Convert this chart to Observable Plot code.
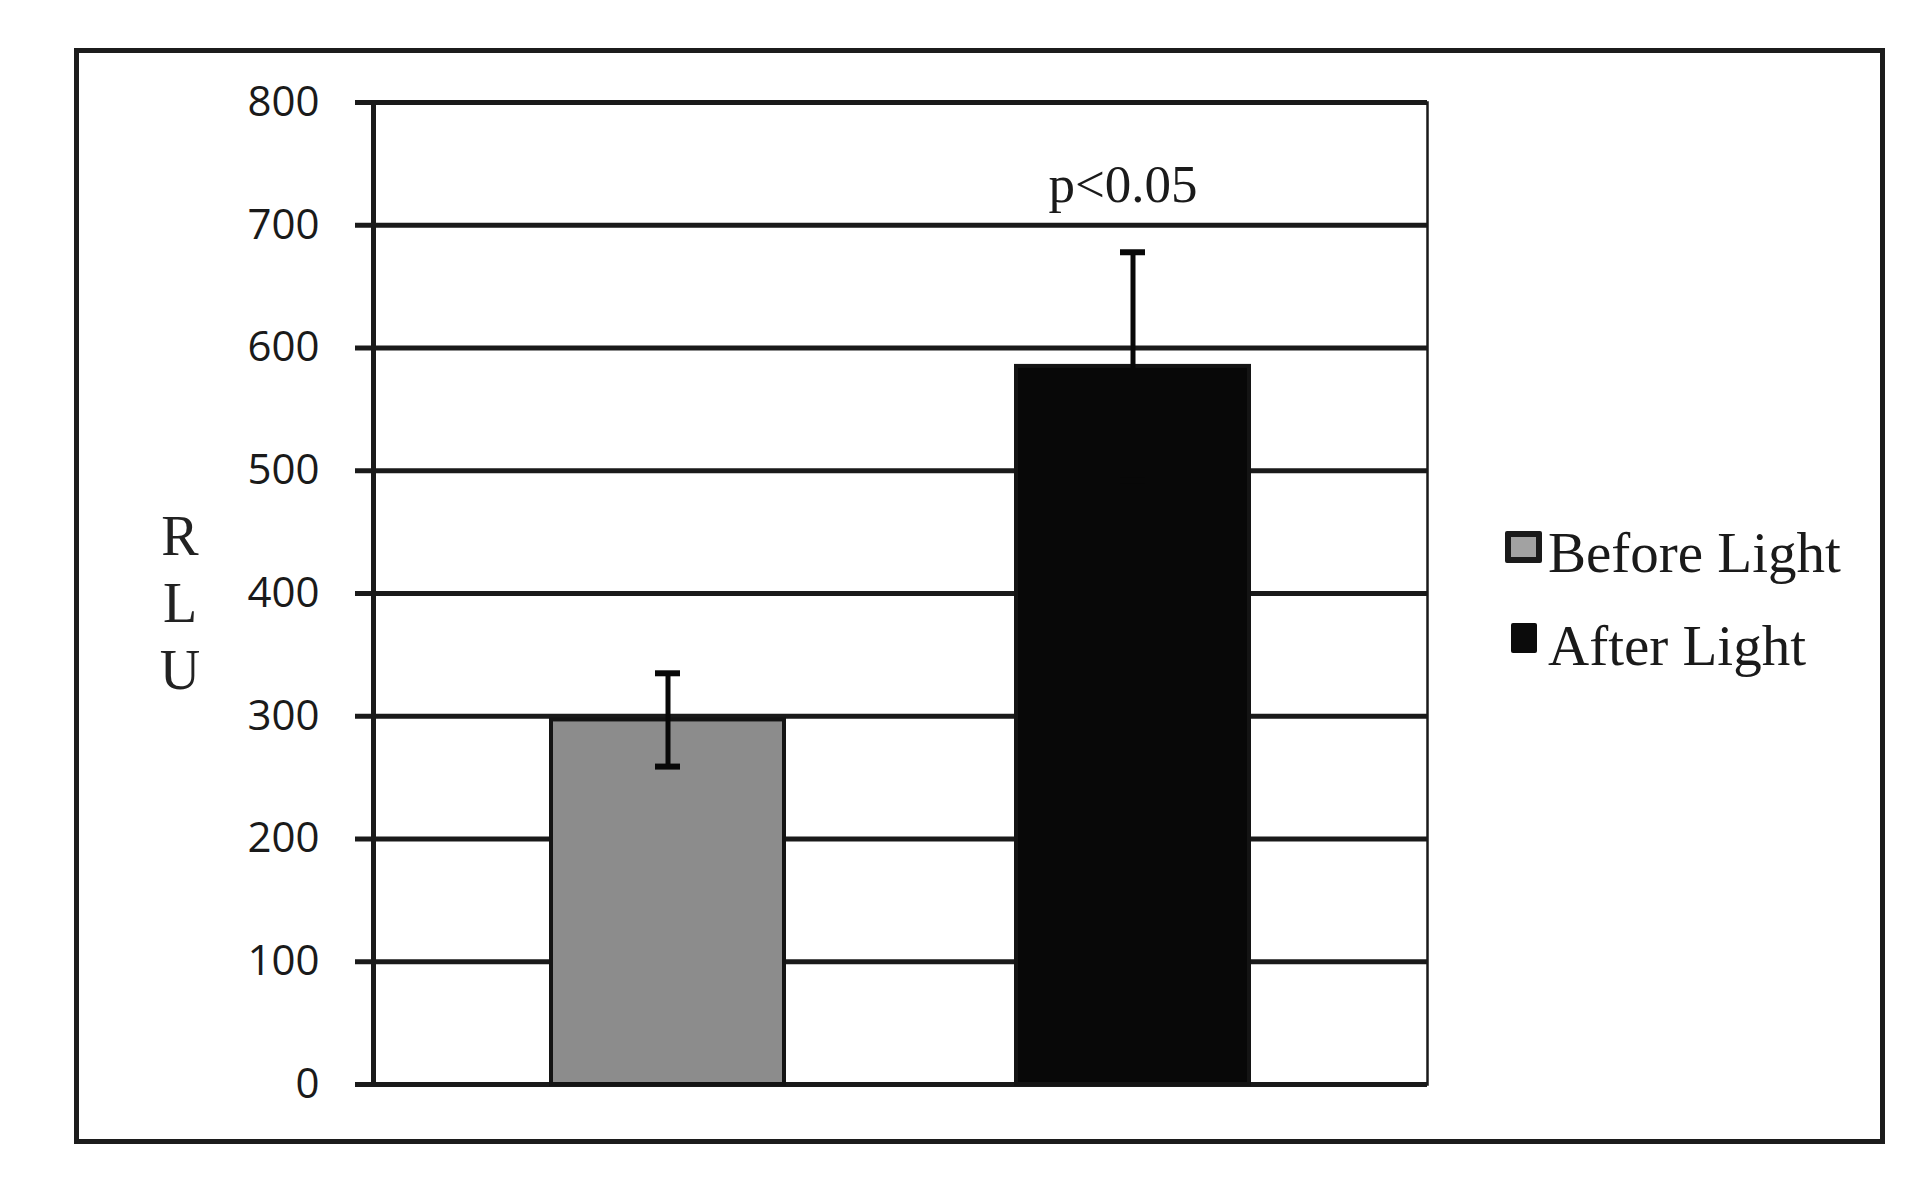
<!DOCTYPE html>
<html>
<head>
<meta charset="utf-8">
<script src="https://cdn.jsdelivr.net/npm/d3@7"></script>
<script src="https://cdn.jsdelivr.net/npm/@observablehq/plot@0.6"></script>
<style>
  html, body { margin: 0; padding: 0; background: #ffffff; }
  #wrap { position: relative; width: 1920px; height: 1192px; overflow: hidden; background: #ffffff; }
  #chart { position: absolute; left: 0; top: 0; }
  #outer { position: absolute; left: 74px; top: 48px; width: 1811px; height: 1096px; box-sizing: border-box; border: 5px solid #1c1c1c; }
  #ylab { position: absolute; left: 150px; top: 503px; width: 60px; text-align: center;
          font-family: "Liberation Serif", "DejaVu Serif", serif; font-size: 56px; line-height: 67px; color: #222; }
  .leg { position: absolute; font-family: "Liberation Serif", "DejaVu Serif", serif; font-size: 57px; line-height: 57px; color: #1a1a1a; white-space: nowrap; }
  .sw { position: absolute; box-sizing: border-box; }
</style>
</head>
<body>
<div id="wrap">
  <div id="outer"></div>
  <div id="chart"></div>
  <div id="ylab"></div>
</div>
<script>
// ---- data ----
const series = ["Before Light", "After Light"];
const means = [297, 585];
const errors = [38, 93];
const fills = ["#8c8c8c", "#080808"];
const notes = ["", "p<0.05"];
const yTicks = [0, 100, 200, 300, 400, 500, 600, 700, 800];
const yLabel = ["R", "L", "U"];

const data = series.map((s, i) => ({ series: s, mean: means[i], err: errors[i], fill: fills[i], note: notes[i] }));

const ink = "#1a1a1a";
const whisker = "#080808";
const chart = Plot.plot({
  width: 1920,
  height: 1192,
  marginLeft: 373,
  marginRight: 493,
  marginTop: 102,
  marginBottom: 108,
  style: { background: "transparent", overflow: "visible" },
  x: { domain: series, paddingInner: 0.5, paddingOuter: 0.381, axis: null },
  y: { domain: [0, 800], axis: null },
  color: { type: "identity" },
  marks: [
    Plot.gridY(yTicks, { stroke: ink, strokeOpacity: 1, strokeWidth: 5 }),
    Plot.axisY(yTicks, {
      tickSize: 18, tickPadding: 36, strokeWidth: 5, color: ink,
      fontSize: 42, fontFamily: "Open Sans, Noto Sans, sans-serif",
      tickFormat: d => String(d), label: null
    }),
    Plot.frame({ stroke: ink, strokeWidth: 2.5 }),
    Plot.frame({ anchor: "left", stroke: ink, strokeWidth: 5 }),
    Plot.barY(data, { x: "series", y: "mean", fill: "fill", stroke: "#141414", strokeWidth: 4 }),
    Plot.ruleX(data, { x: "series", y1: d => d.mean - d.err, y2: d => d.mean + d.err, stroke: whisker, strokeWidth: 5 }),
    Plot.tickY(data, { x: "series", y: d => d.mean + d.err, insetLeft: 104, insetRight: 104, stroke: whisker, strokeWidth: 6 }),
    Plot.tickY(data, { x: "series", y: d => d.mean - d.err, insetLeft: 104, insetRight: 104, stroke: whisker, strokeWidth: 6 }),
    Plot.text(data.filter(d => d.note), {
      x: "series", y: d => d.mean + d.err, text: "note", dy: -67, dx: -10,
      fontSize: 53, fontFamily: "Liberation Serif, DejaVu Serif, serif", fill: "#1a1a1a"
    })
  ]
});
document.getElementById("chart").appendChild(chart);

// stacked y label
document.getElementById("ylab").innerHTML = yLabel.map(c => `<div>${c}</div>`).join("");

// legend built from the series arrays
const wrap = document.getElementById("wrap");
const legendPos = [
  { sw: { left: 1505, top: 531, w: 37, h: 32, border: 6 }, text: { left: 1548, top: 524 } },
  { sw: { left: 1511, top: 623, w: 26, h: 30, border: 0 }, text: { left: 1548, top: 617 } }
];
const swatchFill = ["#a2a2a2", "#0b0b0b"];
series.forEach((s, i) => {
  const p = legendPos[i];
  const sw = document.createElement("div");
  sw.className = "sw";
  Object.assign(sw.style, {
    left: p.sw.left + "px", top: p.sw.top + "px", width: p.sw.w + "px", height: p.sw.h + "px",
    background: swatchFill[i], border: p.sw.border ? `${p.sw.border}px solid #1a1a1a` : "none",
    borderRadius: "2px"
  });
  wrap.appendChild(sw);
  const t = document.createElement("div");
  t.className = "leg";
  t.textContent = s;
  t.style.left = p.text.left + "px";
  t.style.top = p.text.top + "px";
  wrap.appendChild(t);
});
</script>
</body>
</html>
